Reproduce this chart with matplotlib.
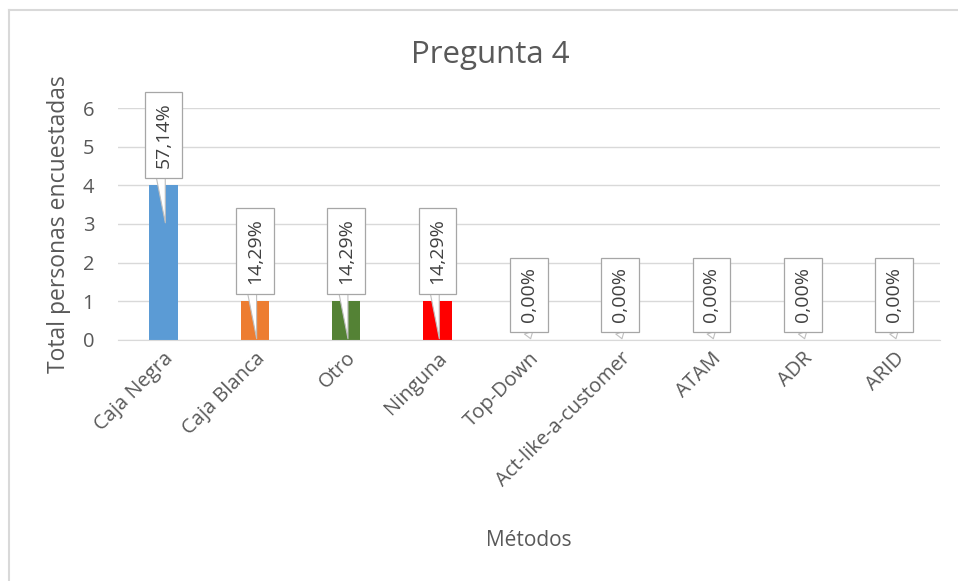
import matplotlib
matplotlib.use("Agg")
import matplotlib.pyplot as plt
from matplotlib.lines import Line2D

metodos = ["Caja Negra", "Caja Blanca", "Otro", "Ninguna", "Top-Down",
           "Act-like-a-customer", "ATAM", "ADR", "ARID"]
personas = [4, 1, 1, 1, 0, 0, 0, 0, 0]
porcentajes = ["57,14%", "14,29%", "14,29%", "14,29%", "0,00%",
               "0,00%", "0,00%", "0,00%", "0,00%"]
colores = ["#5B9BD5", "#ED7D31", "#548235", "#FF0000", "#A5A5A5",
           "#FFC000", "#4472C4", "#70AD47", "#264478"]

gris = "#595959"
plt.rcParams["font.family"] = ["Open Sans", "DejaVu Sans"]

fig = plt.figure(figsize=(9.58, 5.81), dpi=100)
ax = fig.add_axes([0.123, 0.415, 0.858, 0.399])

x = range(len(metodos))
ax.bar(x, personas, width=0.31, color=colores, zorder=2)

# etiquetas tipo globo con el porcentaje
for i, (v, txt) in enumerate(zip(personas, porcentajes)):
    ax.annotate(txt, xy=(i + 0.02, max(v - 1, 0) + 0.03), xytext=(i, v + 0.45),
                rotation=90, ha="center", va="bottom", fontsize=14,
                color="#404040", zorder=5, annotation_clip=False,
                bbox=dict(boxstyle="square,pad=0.5", fc="white", ec="#a6a6a6", lw=0.9),
                arrowprops=dict(arrowstyle="wedge,tail_width=0.45", fc="white",
                                ec="#bfbfbf", lw=0.8, shrinkA=0, shrinkB=0,
                                relpos=(0.3, 0.0)))

ax.set_xlim(-0.5, len(metodos) - 0.5)
ax.set_ylim(0, 6)
ax.set_yticks(range(7))
ax.yaxis.grid(True, color="#d9d9d9", lw=1, zorder=0)
for s in ["top", "right", "left"]:
    ax.spines[s].set_visible(False)
ax.spines["bottom"].set_color("#d9d9d9")
ax.tick_params(axis="both", length=0, colors=gris, labelsize=14.5)
ax.tick_params(axis="y", pad=17)
ax.set_xticks(list(x))
ax.set_xticklabels(metodos, rotation=45, ha="right", rotation_mode="anchor")
ax.tick_params(axis="x", pad=6)

ax.set_ylabel("Total personas encuestadas", fontsize=16.5, color=gris, labelpad=8)
ax.set_xlabel("Métodos", fontsize=15, color=gris)
ax.xaxis.set_label_coords(0.5, -0.82)
fig.text(0.512, 0.905, "Pregunta 4", ha="center", va="center", fontsize=22.5, color=gris)

# marco del gráfico
fig.add_artist(Line2D([0.0095, 0.0095], [0, 0.983], color="#d9d9d9", lw=1.5, transform=fig.transFigure))
fig.add_artist(Line2D([0.0095, 1.0], [0.983, 0.983], color="#d9d9d9", lw=1.5, transform=fig.transFigure))

fig.savefig("out.png", dpi=100, facecolor="white")
